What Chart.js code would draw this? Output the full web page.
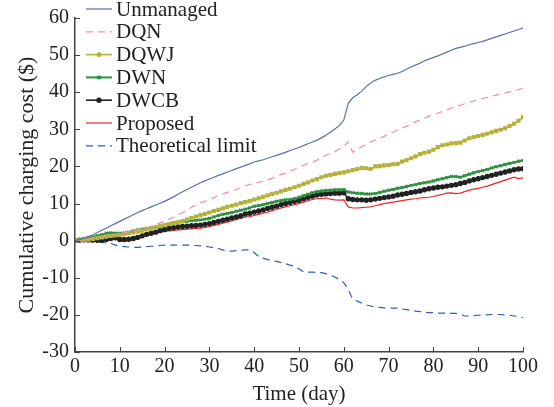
<!DOCTYPE html>
<html>
<head>
<meta charset="utf-8">
<style>
  html, body { margin: 0; padding: 0; background: #fff; }
  #wrap { width: 554px; height: 407px; position: relative; }
</style>
</head>
<body>
<div id="wrap"><canvas id="costChart"></canvas></div>

<script src="https://cdn.jsdelivr.net/npm/chart.js"></script>
<script>
    // days 0..100
    const days = Array.from({ length: 101 }, (_, i) => i);

    const unmanaged = [
        0, 0.3, 0.7, 1.1, 1.6, 2.2, 2.8, 3.4, 4.0, 4.6,
        5.2, 5.8, 6.4, 7.0, 7.6, 8.1, 8.6, 9.1, 9.6, 10.1,
        10.6, 11.2, 11.8, 12.5, 13.2, 13.8, 14.4, 15.0, 15.6, 16.1,
        16.6, 17.1, 17.6, 18.0, 18.5, 18.9, 19.4, 19.8, 20.3, 20.7,
        21.2, 21.5, 21.8, 22.2, 22.6, 23.0, 23.4, 23.8, 24.3, 24.7,
        25.1, 25.6, 26.1, 26.6, 27.1, 27.7, 28.4, 29.2, 30.1, 31.0,
        32.5, 37.0, 38.5, 39.3, 40.3, 41.5, 42.5, 43.2, 43.7, 44.1,
        44.5, 44.8, 45.1, 45.6, 46.2, 46.8, 47.3, 47.8, 48.5, 48.9,
        49.4, 49.8, 50.3, 50.8, 51.3, 51.8, 52.1, 52.4, 52.8, 53.1,
        53.4, 53.7, 54.1, 54.5, 54.9, 55.3, 55.7, 56.1, 56.5, 56.9,
        57.3
    ];
    const dqn = [
        0, 0.1, 0.2, 0.4, 0.5, 0.7, 0.9, 1.2, 1.4, 1.6,
        1.9, 2.1, 2.4, 2.6, 2.9, 3.2, 3.5, 3.8, 4.3, 4.8,
        5.3, 5.8, 6.3, 6.9, 7.5, 8.2, 9.0, 9.6, 10.2, 10.6,
        11.0, 11.6, 12.2, 12.6, 13.0, 13.4, 13.8, 14.3, 14.8, 15.1,
        15.4, 15.7, 16.0, 16.4, 16.8, 17.3, 17.8, 18.2, 18.7, 19.2,
        19.8, 20.3, 20.8, 21.2, 21.7, 22.3, 23.0, 23.5, 24.0, 24.7,
        25.4, 26.6, 23.8, 24.6, 25.3, 26.0, 26.6, 27.1, 27.6, 28.1,
        28.7, 29.2, 29.8, 30.3, 30.8, 31.4, 32.0, 32.5, 33.0, 33.5,
        34.0, 34.4, 34.8, 35.2, 35.7, 36.1, 36.5, 36.9, 37.3, 37.6,
        38.0, 38.3, 38.6, 38.9, 39.2, 39.5, 39.8, 40.1, 40.4, 40.7,
        41.1
    ];
    const dqwj = [
        0, 0.1, 0.2, 0.3, 0.5, 0.7, 0.9, 1.1, 1.3, 1.4,
        1.6, 1.8, 2.0, 2.2, 2.4, 2.7, 3.0, 3.3, 3.6, 4.0,
        4.2, 4.5, 4.7, 5.0, 5.3, 5.7, 6.1, 6.5, 6.9, 7.2,
        7.6, 8.0, 8.3, 8.7, 9.1, 9.4, 9.7, 10.1, 10.4, 10.7,
        11.1, 11.4, 11.8, 12.2, 12.6, 12.9, 13.3, 13.7, 14.0, 14.4,
        14.8, 15.3, 15.7, 16.2, 16.6, 17.1, 17.5, 17.7, 18.0, 18.2,
        18.4, 18.7, 19.0, 19.3, 19.6, 19.5, 19.3, 20.0, 20.1, 20.3,
        20.4, 20.6, 20.7, 21.3, 21.7, 22.2, 22.7, 23.3, 23.7, 24.0,
        24.5, 25.2, 25.7, 25.9, 26.2, 26.3, 26.4, 27.0, 27.6, 27.9,
        28.2, 28.5, 28.8, 29.2, 29.6, 29.9, 30.3, 30.9, 31.5, 32.3,
        33.3
    ];
    const dwn = [
        0, 0.3, 0.5, 0.8, 1.0, 1.3, 1.6, 2.0, 2.1, 2.0,
        2.0, 2.1, 2.3, 2.6, 2.9, 3.1, 3.3, 3.5, 3.6, 3.7,
        4.2, 4.6, 4.8, 5.0, 5.1, 5.2, 5.4, 5.5, 5.6, 5.8,
        6.0, 6.4, 6.8, 7.1, 7.3, 7.6, 7.9, 8.2, 8.5, 8.8,
        9.3, 9.5, 9.7, 10.0, 10.3, 10.6, 10.8, 11.0, 11.1, 11.3,
        11.7, 12.1, 12.5, 12.9, 13.2, 13.4, 13.5, 13.6, 13.7, 13.7,
        13.8, 13.1, 12.9, 12.8, 12.7, 12.6, 12.6, 12.7, 13.0, 13.3,
        13.6, 13.8, 14.1, 14.3, 14.6, 14.9, 15.1, 15.4, 15.6, 15.8,
        16.1, 16.4, 16.7, 17.0, 17.3, 17.3, 17.1, 17.5, 17.9, 18.3,
        18.6, 18.9, 19.2, 19.6, 19.9, 20.2, 20.5, 20.8, 21.1, 21.4,
        21.6
    ];
    const dwcb = [
        0, 0.1, 0.2, 0.2, 0.2, 0.1, 0.1, 0.3, 0.6, 0.8,
        0.3, 0.3, 0.4, 0.6, 0.9, 1.3, 1.7, 2.0, 2.3, 2.7,
        3.0, 3.3, 3.5, 3.7, 3.8, 3.9, 4.0, 4.1, 4.2, 4.4,
        4.6, 4.9, 5.2, 5.5, 5.8, 6.1, 6.4, 6.7, 7.2, 7.4,
        7.7, 8.0, 8.3, 8.7, 9.0, 9.3, 9.7, 10.0, 10.3, 10.6,
        10.9, 11.3, 11.7, 12.0, 12.3, 12.5, 12.6, 12.7, 12.8, 12.8,
        12.9, 11.3, 11.1, 11.0, 11.0, 10.9, 11.0, 11.2, 11.4, 11.6,
        11.8, 12.0, 12.3, 12.5, 12.7, 13.0, 13.2, 13.4, 13.7, 14.0,
        14.2, 14.4, 14.5, 14.7, 14.9, 15.1, 15.4, 15.7, 16.1, 16.4,
        16.7, 17.0, 17.3, 17.6, 17.9, 18.2, 18.5, 18.8, 19.1, 19.3,
        19.4
    ];
    const proposed = [
        0, 0.1, 0.2, 0.2, 0.1, 0.0, 0.0, 0.2, 0.5, 0.6,
        -0.1, -0.1, 0.0, 0.2, 0.4, 1.0, 1.5, 1.8, 2.1, 2.3,
        2.5, 2.6, 2.7, 2.9, 3.0, 3.1, 3.2, 3.3, 3.4, 3.6,
        3.8, 4.1, 4.4, 4.7, 5.0, 5.3, 5.7, 6.0, 6.4, 6.5,
        6.8, 7.1, 7.4, 7.7, 8.1, 8.4, 8.8, 9.1, 9.4, 9.7,
        10.0, 10.4, 10.8, 11.1, 11.3, 11.4, 11.5, 11.2, 11.0, 10.9,
        11.0, 9.1, 8.8, 8.8, 8.9, 9.0, 9.1, 9.4, 9.7, 10.0,
        10.2, 10.4, 10.6, 10.8, 11.0, 11.2, 11.3, 11.5, 11.6, 11.7,
        11.9, 12.2, 12.5, 12.8, 12.9, 12.7, 12.8, 13.2, 13.6, 13.9,
        14.1, 14.4, 14.7, 15.1, 15.5, 15.9, 16.3, 16.7, 17.1, 16.7,
        16.9
    ];
    const theoretical = [
        0, 0, -0.1, -0.1, -0.3, -0.4, -0.5, -0.6, -0.7, -1.2,
        -1.5, -1.6, -1.7, -1.8, -1.8, -1.7, -1.6, -1.5, -1.4, -1.3,
        -1.2, -1.2, -1.2, -1.2, -1.2, -1.2, -1.2, -1.3, -1.4, -1.5,
        -1.7, -1.9, -2.1, -2.5, -2.9, -2.8, -2.7, -2.6, -2.5, -2.5,
        -3.2, -4.3, -4.7, -5.1, -5.4, -5.6, -5.9, -6.2, -6.6, -6.9,
        -7.6, -8.4, -8.5, -8.5, -8.6, -8.6, -8.9, -9.3, -9.8, -10.5,
        -11.3, -13.2, -15.8, -16.3, -16.8, -17.3, -17.6, -17.9, -18.0, -18.1,
        -18.1, -18.2, -18.2, -18.4, -18.6, -18.8, -19.0, -19.1, -19.3, -19.4,
        -19.4, -19.5, -19.5, -19.5, -19.6, -19.6, -19.8, -20.3, -20.3, -20.2,
        -20.1, -20.0, -20.0, -19.9, -19.9, -19.9, -20.0, -20.1, -20.3, -20.5,
        -20.7
    ];

    const FONT = "Liberation Serif";

    function pts(values) {
        return values.map((v, i) => ({ x: days[i], y: v }));
    }

    // inward tick marks on both axes
    const inwardTicks = {
        id: "inwardTicks",
        afterDraw(chart) {
            const ctx = chart.ctx;
            const area = chart.chartArea;
            const xs = chart.scales.x, ys = chart.scales.y;
            ctx.save();
            ctx.strokeStyle = "#444";
            ctx.lineWidth = 1;
            xs.ticks.forEach(t => {
                const px = Math.round(xs.getPixelForValue(t.value)) + 0.5;
                ctx.beginPath();
                ctx.moveTo(px, area.bottom);
                ctx.lineTo(px, area.bottom - 5);
                ctx.stroke();
            });
            ys.ticks.forEach(t => {
                const py = Math.round(ys.getPixelForValue(t.value)) + 0.5;
                ctx.beginPath();
                ctx.moveTo(area.left, py);
                ctx.lineTo(area.left + 5, py);
                ctx.stroke();
            });
            ctx.restore();
        }
    };

    // legend drawn top-left inside the plot, line samples with markers
    const lineLegend = {
        id: "lineLegend",
        afterDraw(chart) {
            const ctx = chart.ctx;
            ctx.save();
            ctx.font = '21px "' + FONT + '", serif';
            ctx.textBaseline = "middle";
            chart.data.datasets.forEach((ds, i) => {
                const y = 9 + i * 22.8;
                ctx.strokeStyle = ds.borderColor;
                ctx.lineWidth = ds.borderWidth;
                ctx.setLineDash(ds.borderDash || []);
                ctx.beginPath();
                ctx.moveTo(86, y);
                ctx.lineTo(112, y);
                ctx.stroke();
                ctx.setLineDash([]);
                if (ds.pointRadius > 0) {
                    ctx.fillStyle = ds.backgroundColor;
                    ctx.strokeStyle = ds.borderColor;
                    Chart.helpers.drawPoint(ctx, {
                        pointStyle: ds.pointStyle,
                        radius: ds.pointRadius,
                        borderWidth: 1
                    }, 99, y);
                }
                ctx.fillStyle = "#222";
                ctx.fillText(ds.label, 116, y + 1);
            });
            ctx.restore();
        }
    };

    function series(label, values, color, extra) {
        return Object.assign({
            label: label,
            data: pts(values),
            borderColor: color,
            backgroundColor: color,
            borderWidth: 1.2,
            pointRadius: 0,
            tension: 0
        }, extra || {});
    }

    function render() {
        const ctx = document.getElementById("costChart").getContext("2d");
        new Chart(ctx, {
            type: "line",
            data: {
                datasets: [
                    series("Unmanaged", unmanaged, "#5571a8"),
                    series("DQN", dqn, "#f48bb4", { borderDash: [7, 5] }),
                    series("DQWJ", dqwj, "#b3b23a", { pointRadius: 1.8, pointStyle: "rect", borderWidth: 1.6 }),
                    series("DWN", dwn, "#2f8f42", { pointRadius: 2.2, pointStyle: "crossRot", pointBorderWidth: 1.2, borderWidth: 2 }),
                    series("DWCB", dwcb, "#222222", { pointRadius: 1.9, pointStyle: "circle", borderWidth: 1.6 }),
                    series("Proposed", proposed, "#e8282b"),
                    series("Theoretical limit", theoretical, "#2b5fbf", { borderDash: [7, 5] })
                ]
            },
            options: {
                responsive: true,
                maintainAspectRatio: false,
                animation: false,
                layout: { padding: { top: 15, right: 31, left: 0, bottom: 0 } },
                plugins: {
                    legend: { display: false },
                    tooltip: { enabled: false }
                },
                scales: {
                    x: {
                        type: "linear",
                        min: 0,
                        max: 100,
                        ticks: { stepSize: 10, color: "#222", padding: 3, font: { family: FONT, size: 20 } },
                        grid: { display: true, drawOnChartArea: false, drawTicks: false },
                        border: { display: true, color: "#444", width: 1.5 },
                        title: { display: true, text: "Time (day)", color: "#222", padding: { top: 0, bottom: 0 }, font: { family: FONT, size: 21 } },
                        afterFit: s => { s.height = 55; }
                    },
                    y: {
                        min: -30,
                        max: 60,
                        ticks: { stepSize: 10, color: "#222", padding: 6, font: { family: FONT, size: 20 } },
                        grid: { display: true, drawOnChartArea: false, drawTicks: false },
                        border: { display: true, color: "#444", width: 1.5 },
                        title: { display: true, text: "Cumulative charging cost ($)", color: "#222", padding: { top: 14, bottom: 0 }, font: { family: FONT, size: 22 } },
                        afterFit: s => { s.width = 75; }
                    }
                }
            },
            plugins: [inwardTicks, lineLegend]
        });
    }

    if (document.fonts && document.fonts.load) {
        document.fonts.load('20px "Liberation Serif"').then(render, render);
    } else {
        render();
    }
</script>
</body>
</html>
